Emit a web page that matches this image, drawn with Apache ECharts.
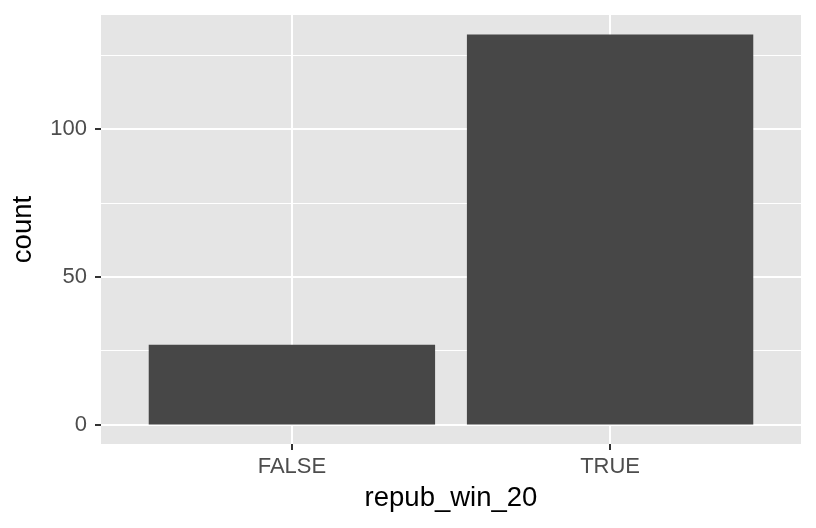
<!DOCTYPE html>
<html>
<head>
<meta charset="utf-8">
<script src="https://cdn.jsdelivr.net/npm/echarts@6/dist/echarts.min.js"></script>
<style>
  html, body { margin: 0; padding: 0; background: #fff; }
  #chart { width: 816px; height: 528px; }
</style>
</head>
<body>
<div id="chart"></div>
<script>
// data
const categories = ['FALSE', 'TRUE']
const counts = [27, 132]
const yMajorTicks = [0, 50, 100]
const yMinorTicks = [25, 75, 125]

// ggplot-style expansion
const yMax = Math.max(...counts)
const yMin = -yMax * 0.05
const yTop = yMax * 1.05
const xPositions = categories.map((c, i) => i + 1)

const gridLeft = 101, gridRight = 15, gridTop = 15, gridBottom = 84
const plotW = 816 - gridLeft - gridRight
const barW = 0.9 * plotW / (categories.length - 1 + 1.2)

const font = '"Liberation Sans", Arial, Helvetica, sans-serif'

const chart = echarts.init(document.getElementById('chart'), null, { renderer: 'canvas' })

chart.setOption({
  animation: false,
  backgroundColor: '#fff',
  grid: {
    left: gridLeft, right: gridRight, top: gridTop, bottom: gridBottom,
    show: true, backgroundColor: '#E5E5E5', borderWidth: 0,
  },
  xAxis: {
    type: 'value',
    min: 0.4,
    max: categories.length + 0.6,
    name: 'repub_win_20',
    nameLocation: 'middle',
    nameGap: 40,
    nameTextStyle: { color: '#000', fontSize: 27.5, fontFamily: font },
    axisLine: { show: false, onZero: false },
    axisTick: { show: true, length: 6, customValues: xPositions, lineStyle: { color: '#333', width: 2 } },
    axisLabel: {
      customValues: xPositions,
      color: '#4D4D4D', fontSize: 22, fontFamily: font, margin: 12,
      formatter: v => categories[Math.round(v) - 1] || '',
    },
    splitLine: { show: true, lineStyle: { color: '#fff', width: 2 } },
  },
  yAxis: [
    {
      type: 'value',
      min: yMin,
      max: yTop,
      name: 'count',
      nameLocation: 'middle',
      nameRotate: 90,
      nameGap: 64,
      nameTextStyle: { color: '#000', fontSize: 27.5, fontFamily: font },
      axisLine: { show: false, onZero: false },
      axisTick: { show: true, length: 6, customValues: yMajorTicks, lineStyle: { color: '#333', width: 2 } },
      axisLabel: { customValues: yMajorTicks, color: '#4D4D4D', fontSize: 22, fontFamily: font, margin: 14 },
      splitLine: { show: true, lineStyle: { color: '#fff', width: 2 } },
    },
    {
      type: 'value',
      min: yMin,
      max: yTop,
      position: 'left',
      axisLine: { show: false, onZero: false },
      axisTick: { show: false, customValues: yMinorTicks },
      axisLabel: { show: false, customValues: yMinorTicks },
      splitLine: { show: true, lineStyle: { color: '#fff', width: 1 } },
    },
  ],
  series: [
    {
      type: 'bar',
      data: xPositions.map((x, i) => [x, counts[i]]),
      barWidth: barW,
      itemStyle: { color: '#474747' },
      silent: true,
    },
  ],
})
</script>
</body>
</html>
